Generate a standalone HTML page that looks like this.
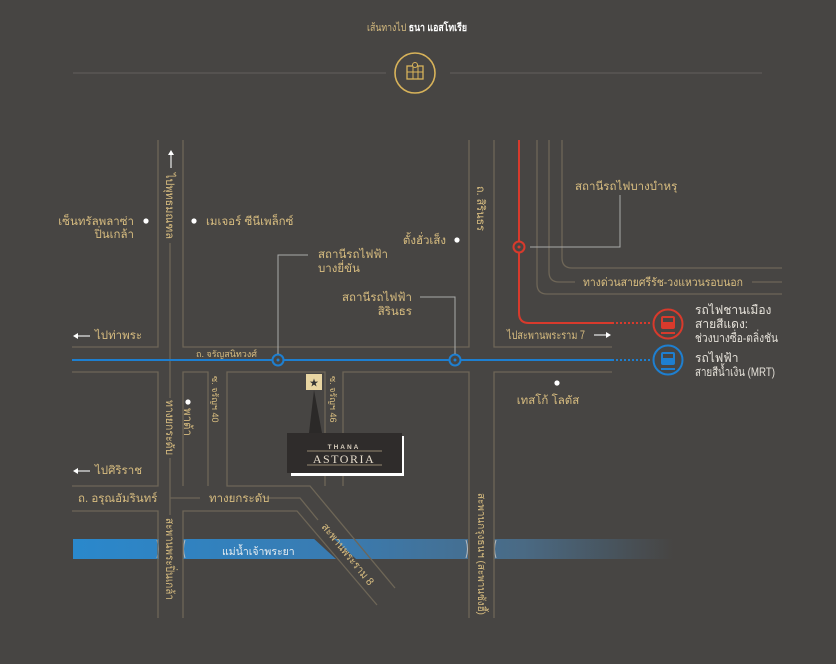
<!DOCTYPE html>
<html><head><meta charset="utf-8"><style>
html,body{margin:0;padding:0;background:#474543;}
svg{display:block;font-family:"Liberation Sans","Noto Sans CJK SC",sans-serif;}
.g{fill:#d8bd80;font-size:11.5px;}
.s{fill:#d8bd80;font-size:9px;}
.r{stroke:#6e6657;stroke-width:1.3;fill:none;}
</style></head><body>
<svg width="836" height="664" viewBox="0 0 836 664" xmlns="http://www.w3.org/2000/svg">
<defs>
<linearGradient id="riv" x1="0" x2="1">
<stop offset="0" stop-color="#2a88cc"/><stop offset="0.45" stop-color="#3a7bb0"/><stop offset="0.75" stop-color="#4a6a84"/><stop offset="1" stop-color="#474543"/>
</linearGradient>
</defs>
<rect width="836" height="664" fill="#474543"/>
<text x="367" y="31" font-size="10.5" textLength="100" lengthAdjust="spacingAndGlyphs"><tspan fill="#d8bd80">เส้นทางไป </tspan><tspan fill="#ffffff" font-weight="bold">ธนา แอสโทเรีย</tspan></text>
<line x1="73" y1="73" x2="386" y2="73" stroke="#5a5754" stroke-width="1.5"/>
<line x1="450" y1="73" x2="762" y2="73" stroke="#5a5754" stroke-width="1.5"/>
<circle cx="415" cy="73" r="20" fill="none" stroke="#d8b35a" stroke-width="1.6"/>
<rect x="407" y="66" width="16" height="13" fill="none" stroke="#d8b35a" stroke-width="1.3"/>
<line x1="407" y1="72" x2="423" y2="72" stroke="#d8b35a"/><line x1="413" y1="66" x2="413" y2="79" stroke="#d8b35a"/><line x1="418" y1="66" x2="418" y2="79" stroke="#d8b35a"/>
<circle cx="415" cy="65" r="2.5" fill="#474543" stroke="#d8b35a"/>

<!-- river -->
<rect x="73" y="539" width="600" height="20" fill="url(#riv)"/>
<rect x="159" y="537" width="24" height="24" fill="#474543"/>
<rect x="468" y="537" width="26" height="24" fill="#474543"/>
<path d="M157 540 q3 9 0 18 M185 540 q-3 9 0 18 M466 540 q3 9 0 18 M496 540 q-3 9 0 18" stroke="#bbb" fill="none" stroke-width="1"/>
<polygon points="312,537 332,537 356,559 336,559" fill="#474543"/>
<text x="222" y="555" fill="#e8eef2" font-size="10.5">แม่น้ำเจ้าพระยา</text>

<!-- roads -->
<g class="r">
<path d="M158 140 V347 H72 M183 140 V347 H469 V140 M494 140 V347 H612"/>
<path d="M72 372 H158 V486 H72 M72 511 H158 V618 M183 618 V511 H297 L377 605 M395 588 L310 486 H227 V372 H325 V486 M343 486 V372 H469 V618 M494 618 V372 H612 M183 486 V372 H208 V486"/>
<path d="M537 140 V284 q0 10 10 10 H782 M549 140 V272 q0 10 10 10 H575 M752 282 H782 M562 140 V258 q0 10 10 10 H782"/>
</g>
<path d="M170 243 V398 M170 458 V515" stroke="#6e6657" stroke-width="1.3"/>
<path d="M170 498 H200 M264 498 H300 L318 520" stroke="#6e6657" stroke-width="1.3" fill="none"/>
<line x1="171" y1="168" x2="171" y2="154" stroke="#ddd" stroke-width="1.3"/><polygon points="168,155 174,155 171,150" fill="#fff"/>

<!-- red line -->
<path d="M519 140 V313 q0 10 10 10 H612" stroke="#d83a2c" stroke-width="2" fill="none"/>
<line x1="612" y1="323" x2="652" y2="323" stroke="#d83a2c" stroke-width="2" stroke-dasharray="2,2"/>
<circle cx="519" cy="247" r="5.5" fill="#474543" stroke="#d83a2c" stroke-width="2"/><circle cx="519" cy="247" r="1.5" fill="#d83a2c"/>
<path d="M530 247 H620 V195" stroke="#aaa" fill="none"/>
<text x="575" y="190" class="g">สถานีรถไฟบางบำหรุ</text>
<text x="583" y="286" class="g" textLength="160" lengthAdjust="spacingAndGlyphs">ทางด่วนสายศรีรัช-วงแหวนรอบนอก</text>

<!-- blue line -->
<line x1="72" y1="360" x2="612" y2="360" stroke="#1e7fd0" stroke-width="2"/>
<line x1="612" y1="360" x2="652" y2="360" stroke="#1e7fd0" stroke-width="2" stroke-dasharray="2,2"/>
<circle cx="278" cy="360" r="5.5" fill="#474543" stroke="#1e7fd0" stroke-width="2"/><circle cx="278" cy="360" r="1.5" fill="#1e7fd0"/>
<circle cx="455" cy="360" r="5.5" fill="#474543" stroke="#1e7fd0" stroke-width="2"/><circle cx="455" cy="360" r="1.5" fill="#1e7fd0"/>
<path d="M278 354 V255 H308 M455 354 V297 H420" stroke="#aaa" fill="none"/>
<text x="318" y="258" class="g">สถานีรถไฟฟ้า</text><text x="318" y="272" class="g">บางยี่ขัน</text>
<text x="412" y="301" class="g" text-anchor="end">สถานีรถไฟฟ้า</text><text x="412" y="315" class="g" text-anchor="end">สิรินธร</text>

<!-- legend -->
<circle cx="668" cy="324" r="14.5" fill="none" stroke="#d83a2c" stroke-width="2"/>
<rect x="661" y="316" width="14" height="13" rx="2" fill="#d83a2c"/><rect x="663" y="318" width="10" height="4" fill="#474543"/><path d="M661 333 H675" stroke="#d83a2c" stroke-width="2"/>
<circle cx="668" cy="360" r="14.5" fill="none" stroke="#1e7fd0" stroke-width="2"/>
<rect x="661" y="352" width="14" height="13" rx="2" fill="#1e7fd0"/><rect x="663" y="354" width="10" height="4" fill="#474543"/><path d="M661 369 H675" stroke="#1e7fd0" stroke-width="2"/>
<g fill="#e6e2da" font-size="12">
<text x="695" y="314">รถไฟชานเมือง</text><text x="695" y="328">สายสีแดง:</text><text x="695" y="342" textLength="83" lengthAdjust="spacingAndGlyphs">ช่วงบางซื่อ-ตลิ่งชัน</text>
<text x="695" y="362">รถไฟฟ้า</text><text x="695" y="376" textLength="80" lengthAdjust="spacingAndGlyphs">สายสีน้ำเงิน (MRT)</text>
</g>
<text x="507" y="339" class="g" textLength="78" lengthAdjust="spacingAndGlyphs">ไปสะพานพระราม 7</text>
<line x1="594" y1="335" x2="606" y2="335" stroke="#ddd" stroke-width="1.3"/><polygon points="606,332 606,338 611,335" fill="#fff"/>

<!-- POIs -->
<g fill="#fff"><circle cx="146" cy="221" r="2.6"/><circle cx="194" cy="221" r="2.6"/><circle cx="457" cy="240" r="2.6"/><circle cx="557" cy="383" r="2.6"/><circle cx="188" cy="402" r="2.6"/></g>
<text x="134" y="225" class="g" text-anchor="end">เซ็นทรัลพลาซ่า</text><text x="134" y="238" class="g" text-anchor="end">ปิ่นเกล้า</text>
<text x="206" y="225" class="g">เมเจอร์ ซีนีเพล็กซ์</text>
<text x="446" y="244" class="g" text-anchor="end">ตั้งฮั่วเส็ง</text>
<text x="548" y="404" class="g" text-anchor="middle">เทสโก้ โลตัส</text>
<text x="95" y="339" class="g">ไปท่าพระ</text>
<line x1="76" y1="336" x2="90" y2="336" stroke="#ddd" stroke-width="1.3"/><polygon points="78,333 78,339 73,336" fill="#fff"/>
<text x="95" y="474" class="g">ไปศิริราช</text>
<line x1="76" y1="471" x2="90" y2="471" stroke="#ddd" stroke-width="1.3"/><polygon points="78,468 78,474 73,471" fill="#fff"/>
<text x="78" y="502" class="g">ถ. อรุณอัมรินทร์</text>
<text x="209" y="502" class="g">ทางยกระดับ</text>
<text x="196" y="357" class="s">ถ. จรัญสนิทวงศ์</text>

<!-- vertical texts -->
<text class="g" transform="translate(166,173) rotate(90)" textLength="66" lengthAdjust="spacingAndGlyphs">ไปพุทธมณฑล</text>
<text class="g" transform="translate(166,400) rotate(90)" textLength="55" lengthAdjust="spacingAndGlyphs">ทางยกระดับ</text>
<text class="g" transform="translate(166,518) rotate(90)" textLength="82" lengthAdjust="spacingAndGlyphs">สะพานพระปิ่นเกล้า</text>
<text class="g" transform="translate(184,408) rotate(90)">พาต้า</text>
<text class="s" transform="translate(212,376) rotate(90)">ซ. จรัญฯ 40</text>
<text class="s" transform="translate(330,376) rotate(90)">ซ. จรัญฯ 46</text>
<text class="g" transform="translate(477,186) rotate(90)" textLength="45" lengthAdjust="spacingAndGlyphs">ถ. สิรินธร</text>
<text transform="translate(478,493) rotate(90)" fill="#d8bd80" font-size="10.5" textLength="122" lengthAdjust="spacingAndGlyphs">สะพานกรุงธนฯ (สะพานซังฮี้)</text>
<text transform="translate(321,527) rotate(51)" fill="#d8bd80" font-size="11" textLength="76" lengthAdjust="spacingAndGlyphs">สะพานพระราม 8</text>

<!-- Thana Astoria -->
<rect x="306" y="374" width="16" height="16" fill="#e8d5a2"/>
<text x="314" y="386" text-anchor="middle" font-size="9" fill="#333">★</text>
<polygon points="314,390 309,433 322,433" fill="#2b2928"/>
<rect x="291" y="436" width="113" height="40" fill="#fff"/>
<rect x="287" y="433" width="115" height="40" fill="#2f2c2b"/>
<text x="344" y="449" text-anchor="middle" fill="#d9cfbf" font-size="6.5" letter-spacing="2" font-weight="bold">THANA</text>
<line x1="307" y1="451" x2="382" y2="451" stroke="#b9a98a" stroke-width="0.8"/>
<line x1="307" y1="465" x2="382" y2="465" stroke="#b9a98a" stroke-width="0.8"/>
<text x="344" y="463" text-anchor="middle" fill="#e6dccb" font-family="Liberation Serif,serif" font-size="12" letter-spacing="1.5">ASTORIA</text>
</svg>
</body></html>
